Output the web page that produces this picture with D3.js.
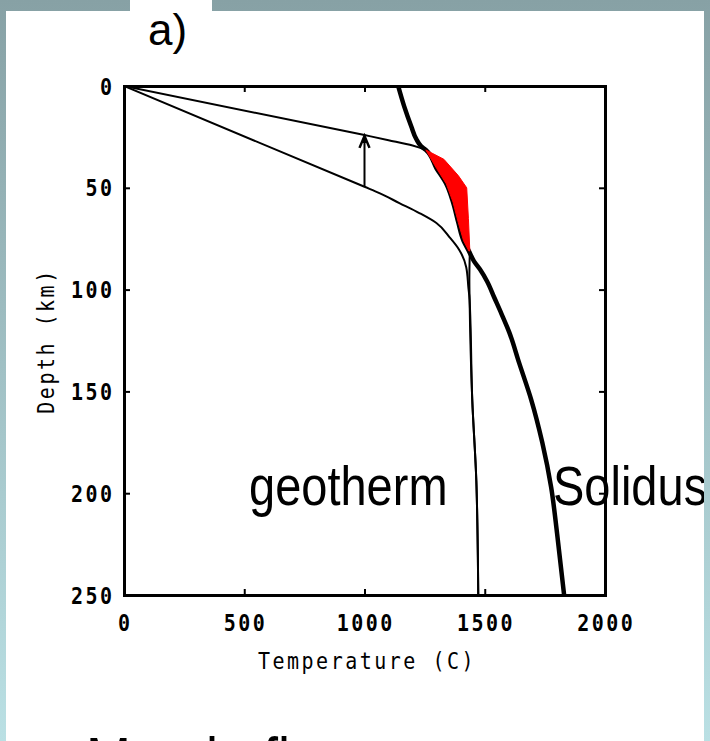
<!DOCTYPE html>
<html>
<head>
<meta charset="utf-8">
<script src="https://cdnjs.cloudflare.com/ajax/libs/d3/7.8.5/d3.min.js"></script>
<style>
body { margin: 0; background: #fff; }
svg { display: block; }
.pix { font-family: "DejaVu Sans Mono", monospace; fill: #000; }
.big { font-family: "Liberation Sans", Arial, sans-serif; fill: #000; }
</style>
</head>
<body>
<svg id="chart" width="710" height="741"></svg>
<script>
// profiles as [temperature (C), depth (km)]
var solidus = [[1140,0],[1165,10],[1195,20],[1215,26],[1235,29.5],[1255,31.4],[1300,40.5],[1340,48],
  [1368,57],[1390,67],[1412,76],[1434,81],[1455,86],[1480,90],[1510,96],[1540,104],[1570,112],
  [1602,121],[1643,136],[1693,154],[1739,175],[1776,197],[1801,220],[1830,250]];
var geothermHot = [[0,0],[1000,24.1],[1100,26.6],[1200,29.2],[1255,31.4],[1330,36],[1390,44],
  [1425,50],[1432,65],[1438,81],[1436,95],[1437,105],[1448,154],[1465,194],[1473,250]];
var geothermCold = [[0,0],[1000,49.5],[1062,52.6],[1145,57.5],[1228,62.4],[1299,67.3],[1353,74.2],
  [1394,80.5],[1423,89],[1432,99],[1437,105],[1448,154],[1465,194],[1473,250]];
var meltTop = 31.4, meltBottom = 81;
var xTicks = [0, 500, 1000, 1500, 2000];
var yTicks = [0, 50, 100, 150, 200, 250];
var arrowT = 1000, arrowFrom = 49.5, arrowTo = 24.5;

var svg = d3.select("#chart");

// slide background + white panel
var grad = svg.append("defs").append("linearGradient")
  .attr("id", "bg").attr("x1", 0).attr("y1", 0).attr("x2", 0).attr("y2", 1);
grad.append("stop").attr("offset", "0%").attr("stop-color", "#87a1a5");
grad.append("stop").attr("offset", "100%").attr("stop-color", "#bae0e4");
svg.append("rect").attr("width", 710).attr("height", 741).attr("fill", "url(#bg)");
svg.append("rect").attr("x", 6).attr("y", 11).attr("width", 698).attr("height", 730).attr("fill", "#fff");
svg.append("rect").attr("x", 130).attr("y", 0).attr("width", 82).attr("height", 11).attr("fill", "#fff");

var x = d3.scaleLinear().domain([0, 2000]).range([124, 605]);
var y = d3.scaleLinear().domain([0, 250]).range([86, 595]);

svg.append("clipPath").attr("id", "plotclip").append("rect")
  .attr("x", 124).attr("y", 86).attr("width", 481).attr("height", 509);

var g = svg.append("g").attr("clip-path", "url(#plotclip)");

var line = d3.line()
  .x(function(d){ return x(d[0]); })
  .y(function(d){ return y(d[1]); })
  .curve(d3.curveMonotoneY);

function drawLine(data, w){
  g.append("path").datum(data).attr("d", line)
    .attr("fill", "none").attr("stroke", "#000").attr("stroke-width", w)
    .attr("stroke-linejoin", "round");
}
drawLine(geothermCold, 2);
// the hot geotherm is hidden under the melt zone, so draw it above and below it
drawLine(geothermHot.filter(function(d){ return d[1] <= meltTop; }), 2);
drawLine(geothermHot.filter(function(d){ return d[1] >= meltBottom; }), 2);
drawLine(solidus, 4.5);

// melt zone between solidus and the hot geotherm
var left = solidus.filter(function(d){ return d[1] >= meltTop && d[1] <= meltBottom; });
var right = geothermHot.filter(function(d){ return d[1] >= meltTop && d[1] <= meltBottom; }).reverse();
g.append("path").datum(left.concat(right))
  .attr("d", d3.line().x(function(d){ return x(d[0]); }).y(function(d){ return y(d[1]); }))
  .attr("fill", "#ff0000").attr("stroke", "#ff0000").attr("stroke-width", 1)
  .attr("stroke-linejoin", "round");

// arrow: lithosphere thinning
g.append("line")
  .attr("x1", x(arrowT)).attr("x2", x(arrowT))
  .attr("y1", y(arrowFrom)).attr("y2", y(arrowTo) + 3)
  .attr("stroke", "#000").attr("stroke-width", 2);
g.append("path")
  .attr("d", "M" + (x(arrowT) - 5) + "," + (y(arrowTo) + 12) + "L" + x(arrowT) + "," + y(arrowTo) +
             "L" + (x(arrowT) + 5) + "," + (y(arrowTo) + 12))
  .attr("fill", "none").attr("stroke", "#000").attr("stroke-width", 2.5);
g.append("path")
  .attr("d", "M" + (x(arrowT) - 3) + "," + (y(arrowTo) + 7) + "L" + x(arrowT) + "," + y(arrowTo) +
             "L" + (x(arrowT) + 3) + "," + (y(arrowTo) + 7) + "Z")
  .attr("fill", "#000");

// frame with inward ticks
function styleAxis(sel){
  sel.select(".domain").attr("stroke-width", 3);
  sel.selectAll(".tick line").attr("stroke-width", 2);
}
svg.append("g").attr("transform", "translate(0,595)")
  .call(d3.axisBottom(x).tickValues(xTicks).tickSize(-6).tickSizeOuter(0).tickFormat(""))
  .call(styleAxis);
svg.append("g").attr("transform", "translate(0,86)")
  .call(d3.axisTop(x).tickValues(xTicks).tickSize(-6).tickSizeOuter(0).tickFormat(""))
  .call(styleAxis);
svg.append("g").attr("transform", "translate(124,0)")
  .call(d3.axisLeft(y).tickValues(yTicks).tickSize(-6).tickSizeOuter(0).tickFormat(""))
  .call(styleAxis);
svg.append("g").attr("transform", "translate(605,0)")
  .call(d3.axisRight(y).tickValues(yTicks).tickSize(-6).tickSizeOuter(0).tickFormat(""))
  .call(styleAxis);
svg.selectAll(".domain").attr("stroke-linecap", "square");

// tick labels in blocky mono type
var ls = 2.5;
xTicks.forEach(function(v){
  svg.append("text").attr("class", "pix")
    .attr("transform", "translate(" + (x(v) + ls / 2) + ",631) scale(1,1.15)")
    .attr("text-anchor", "middle").attr("font-size", 20).attr("font-weight", "bold")
    .attr("letter-spacing", ls).text(v);
});
yTicks.forEach(function(v){
  svg.append("text").attr("class", "pix")
    .attr("transform", "translate(" + (112 + ls) + "," + (y(v) + 8.5) + ") scale(1,1.15)")
    .attr("text-anchor", "end").attr("font-size", 20).attr("font-weight", "bold")
    .attr("letter-spacing", ls).text(v);
});

svg.append("text").attr("class", "pix")
  .attr("transform", "translate(367,669) scale(1,1.15)")
  .attr("text-anchor", "middle").attr("font-size", 20).attr("letter-spacing", ls)
  .text("Temperature (C)");
svg.append("text").attr("class", "pix")
  .attr("transform", "translate(54,341) rotate(-90) scale(1,1.15)")
  .attr("text-anchor", "middle").attr("font-size", 20).attr("letter-spacing", ls)
  .text("Depth (km)");

// slide annotations
function bigText(str, tx, ty, size, sy){
  svg.append("text").attr("class", "big")
    .attr("transform", "translate(" + tx + "," + ty + ") scale(1," + sy + ")")
    .attr("font-size", size).text(str);
}
bigText("a)", 148, 45, 44, 1.0);
bigText("geotherm", 249, 505, 47, 1.2);
bigText("Solidus", 553, 505, 47, 1.2);
bigText("Mantle flow", 86, 783, 54, 1.2);

// right slide border sits on top of the text
svg.append("rect").attr("x", 704).attr("y", 0).attr("width", 6).attr("height", 741).attr("fill", "url(#bg)");
</script>
</body>
</html>
